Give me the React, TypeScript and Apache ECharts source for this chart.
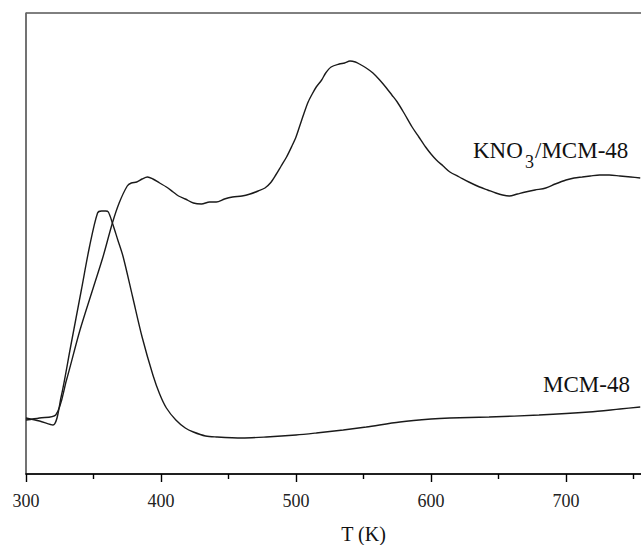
import React, { useEffect, useRef } from "react";
import * as echarts from "echarts";

// Temperatures (K) and signal (a.u.)
const kno3T = [300, 310, 322, 330, 340, 350, 357, 364, 369, 375, 378, 382, 386, 390, 394, 399, 404, 409, 413, 418, 424, 430, 436, 441, 447, 453, 460, 466, 472, 477, 481, 485, 489, 493, 497, 500, 503, 506, 509, 512, 515, 519, 522, 526, 532, 536, 540, 544, 547, 552, 557, 562, 567, 571, 575, 580, 586, 591, 596, 600, 604, 609, 614, 621, 628, 636, 642, 648, 653, 658, 664, 670, 677, 685, 692, 700, 706, 712, 718, 725, 732, 740, 748, 755];
const kno3Y = [54, 56, 59, 94, 144, 187, 217, 251, 271, 288, 291, 292, 295, 297, 295, 291, 287, 282, 278, 275, 271, 270, 272, 272, 275, 277, 278, 280, 283, 286, 291, 299, 308, 317, 328, 337, 349, 361, 372, 380, 387, 394, 401, 407, 410, 411, 413, 412, 410, 406, 401, 394, 386, 379, 372, 361, 347, 337, 327, 320, 314, 308, 302, 297, 292, 287, 284, 281, 279, 278, 280, 282, 284, 286, 290, 294, 296, 297, 298, 299, 299, 298, 297, 296];

const mcmT = [300, 310, 320, 326, 333, 341, 347, 353, 356, 359, 361, 364, 368, 372, 379, 386, 394, 399, 404, 411, 418, 424, 433, 441, 460, 478, 500, 515, 535, 552, 577, 600, 614, 643, 680, 717, 740, 755];
const mcmY = [56, 53, 49, 77, 127, 184, 227, 261, 263, 263, 262, 251, 234, 217, 177, 137, 99, 80, 66, 54, 46, 42, 38, 37, 36, 37, 39, 41, 44, 47, 52, 55, 56, 57, 59, 62, 65, 67];

const xTickLabels = ["300", "400", "500", "600", "700"];
const axisTitle = "T (K)";

const FONT = "'Liberation Serif', 'Times New Roman', serif";

export default function App() {
  const ref = useRef<HTMLDivElement>(null);
  useEffect(() => {
    if (!ref.current) return;
    const chart = echarts.init(ref.current, undefined, { renderer: "svg" });
    const kData = kno3T.map((t, i) => [t, kno3Y[i]]);
    const mData = mcmT.map((t, i) => [t, mcmY[i]]);
    chart.setOption({
      animation: false,
      backgroundColor: "#ffffff",
      grid: {
        left: 26,
        top: 13,
        width: 675,
        height: 461,
        show: true,
        borderColor: "#000",
        borderWidth: 1,
        containLabel: false,
        outerBoundsMode: "none",
      },
      xAxis: {
        type: "value",
        min: 300,
        max: 800,
        interval: 100,
        name: axisTitle,
        nameLocation: "middle",
        nameGap: 50,
        nameTextStyle: { fontFamily: FONT, fontSize: 20, color: "#111" },
        axisLine: { show: true, lineStyle: { color: "#000", width: 1.6 } },
        axisTick: { show: true, inside: false, length: 8, lineStyle: { color: "#000", width: 1.4 } },
        minorTick: { show: true, splitNumber: 2, length: 5, lineStyle: { color: "#000", width: 1.4 } },
        splitLine: { show: false },
        axisLabel: {
          margin: 18,
          fontFamily: FONT,
          fontSize: 18,
          color: "#222",
          formatter: (v: number) => {
            const s = String(v);
            return xTickLabels.includes(s) ? s : "";
          },
        },
      },
      yAxis: {
        type: "value",
        min: 0,
        max: 461,
        axisLine: { show: true, lineStyle: { color: "#707070", width: 1.6 } },
        axisTick: { show: false },
        axisLabel: { show: false },
        splitLine: { show: false },
      },
      series: [
        {
          name: "KNO3/MCM-48",
          type: "line",
          data: kData,
          showSymbol: false,
          smooth: 0.3,
          lineStyle: { color: "#1a1a1a", width: 1.4 },
        },
        {
          name: "MCM-48",
          type: "line",
          data: mData,
          showSymbol: false,
          smooth: 0.3,
          lineStyle: { color: "#1a1a1a", width: 1.4 },
        },
      ],
      graphic: [
        {
          type: "text",
          left: 473,
          top: 139,
          style: { text: "KNO", fontFamily: FONT, fontSize: 23, fill: "#111" },
        },
        {
          type: "text",
          left: 525,
          top: 153,
          style: { text: "3", fontFamily: FONT, fontSize: 18, fill: "#111" },
        },
        {
          type: "text",
          left: 535,
          top: 139,
          style: { text: "/MCM-48", fontFamily: FONT, fontSize: 23, fill: "#111" },
        },
        {
          type: "text",
          left: 543,
          top: 373,
          style: { text: "MCM-48", fontFamily: FONT, fontSize: 23, fill: "#111" },
        },
      ],
    });
    return () => chart.dispose();
  }, []);
  return (
    <div
      ref={ref}
      style={{ position: "absolute", left: 0, top: 0, width: 641, height: 545, overflow: "hidden" }}
    />
  );
}
